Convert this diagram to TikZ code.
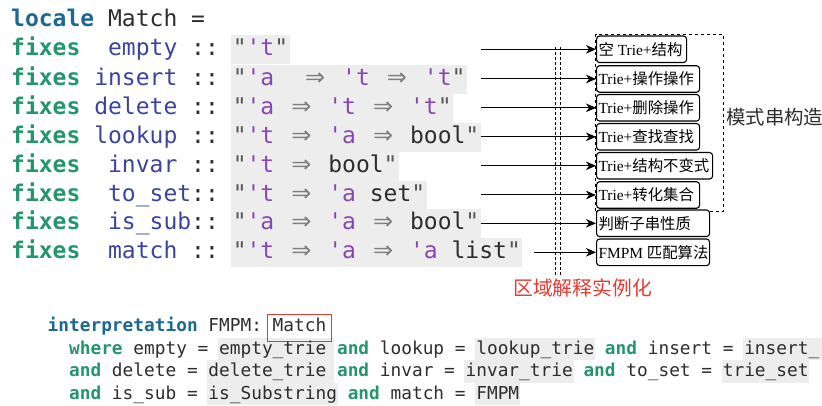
\documentclass[tikz,border=0pt]{standalone}
\usepackage{fontspec}
\setmainfont{Liberation Serif}
\newfontfamily\codefont{DejaVu Sans Mono}
\newfontfamily\arrfont{DejaVu Sans}
\newfontfamily\cjk{Noto Sans CJK SC}
\usetikzlibrary{arrows.meta}

\definecolor{kwblue}{RGB}{28,104,145}
\definecolor{kwgreen}{RGB}{36,150,108}
\definecolor{fname}{RGB}{58,68,160}
\definecolor{tvar}{RGB}{138,70,178}
\definecolor{ink}{RGB}{45,45,45}
\definecolor{qgrey}{RGB}{85,85,85}
\definecolor{arrgrey}{RGB}{125,125,125}
\definecolor{codebg}{RGB}{237,237,237}
\definecolor{hlred}{RGB}{228,58,48}

% one character cell of the locale listing
\newlength\codecw \setlength\codecw{13.85pt}
\newcommand\sk{\hspace*{\codecw}}
\newcommand\qt{{\color{qgrey}"}}
\newcommand\tv[1]{{\color{tvar}'#1}}
\newcommand\imp{\makebox[1.9\codecw]{\color{arrgrey}\arrfont\fontsize{24}{24}\selectfont ⇒}}
\newcommand\kwg[1]{{\bfseries\color{kwgreen}#1}}
\newcommand\kwb[1]{{\bfseries\color{kwblue}#1}}
\newcommand\fn[1]{{\color{fname}#1}}
% cell pitch of the interpretation block: 0.602em at 17.8pt
\newcommand\bcw{10.716}
% grey highlight behind a run of cells in the interpretation block
\newcommand\bgcell[3]{\fill[codebg] ({47.5+#2*\bcw-1},{#1-16.15}) rectangle ({47.5+#3*\bcw+1},{#1+6.35});}
% box label, left aligned in a box of fixed width
\newcommand\lbl[2]{\makebox[#1][l]{#2}}

\begin{document}
\begin{tikzpicture}[x=1pt,y=-1pt,
  code/.style={font=\codefont\fontsize{23}{29}\selectfont, text=ink, inner sep=0, anchor=base west},
  str/.style={code, fill=codebg, inner xsep=1.5pt, inner ysep=0, text height=20.5pt, text depth=8.5pt},
  bcode/.style={font=\codefont\fontsize{17.8}{22}\selectfont, text=ink, inner sep=0, anchor=base west},
  rbox/.style={draw=black, line width=1.1pt, rounded corners=3pt, fill=white, anchor=west,
    inner xsep=2pt, inner ysep=0, minimum height=26.5pt,
    font=\fontsize{15.4}{18}\selectfont, text=black},
  link/.style={line width=1pt, -{Stealth[length=10pt,width=8.5pt,inset=3pt]}},
  vdash/.style={line width=1pt, dash pattern=on 3pt off 2pt},
]
\useasboundingbox (0,0) rectangle (822,406);

% ---- locale declaration ----
\node[code] (l0) at (11,26.6) {\kwb{locale}\sk Match\sk=};
\node[code] (p1) at (11,55.6)  {\kwg{fixes}\sk\sk\fn{empty}\sk::};
\node[code] (p2) at (11,85.3)  {\kwg{fixes}\sk\fn{insert}\sk::};
\node[code] (p3) at (11,114.1) {\kwg{fixes}\sk\fn{delete}\sk::};
\node[code] (p4) at (11,143.1) {\kwg{fixes}\sk\fn{lookup}\sk::};
\node[code] (p5) at (11,172.1) {\kwg{fixes}\sk\sk\fn{invar}\sk::};
\node[code] (p6) at (11,201.3) {\kwg{fixes}\sk\sk\fn{to\_set}::};
\node[code] (p7) at (11,229.6) {\kwg{fixes}\sk\sk\fn{is\_sub}::};
\node[code] (p8) at (11,258.6) {\kwg{fixes}\sk\sk\fn{match}\sk::};

\node[str] (s1) at (231.1,55.6)  {\qt\tv{t}\qt};
\node[str] (s2) at (231.1,85.3)  {\qt\tv{a}\sk\sk\imp\sk\tv{t}\sk\imp\sk\tv{t}\qt};
\node[str] (s3) at (231.1,114.1) {\qt\tv{a}\sk\imp\sk\tv{t}\sk\imp\sk\tv{t}\qt};
\node[str] (s4) at (231.1,143.1) {\qt\tv{t}\sk\imp\sk\tv{a}\sk\imp\sk bool\qt};
\node[str] (s5) at (231.1,172.1) {\qt\tv{t}\sk\imp\sk bool\qt};
\node[str] (s6) at (231.1,201.3) {\qt\tv{t}\sk\imp\sk\tv{a}\sk set\qt};
\node[str] (s7) at (231.1,229.6) {\qt\tv{a}\sk\imp\sk\tv{a}\sk\imp\sk bool\qt};
\node[str] (s8) at (231.1,258.6) {\qt\tv{t}\sk\imp\sk\tv{a}\sk\imp\sk\tv{a}\sk list\qt};

% ---- grouping frame and target boxes ----
\node[draw=black, line width=1.1pt, dash pattern=on 3.5pt off 2.5pt, inner sep=0,
  minimum width=128pt, minimum height=176.7pt, anchor=north west] (grp) at (595,34) {};

\node[rbox] (r1) at (596,49.3)  {\lbl{86pt}{{\cjk 空} Trie+{\cjk 结构}}};
\node[rbox] (r2) at (596,79)    {\lbl{99pt}{Trie+{\cjk 操作操作}}};
\node[rbox] (r3) at (596,107.8) {\lbl{99pt}{Trie+{\cjk 删除操作}}};
\node[rbox] (r4) at (596,136.8) {\lbl{99pt}{Trie+{\cjk 查找查找}}};
\node[rbox] (r5) at (596,165.8) {\lbl{112pt}{Trie+{\cjk 结构不变式}}};
\node[rbox] (r6) at (596,195)   {\lbl{99pt}{Trie+{\cjk 转化集合}}};
\node[rbox] (r7) at (596,223.3) {\lbl{109pt}{{\cjk 判断子串性质}}};
\node[rbox] (r8) at (596,252.3) {\lbl{109pt}{FMPM {\cjk 匹配算法}}};

\node[anchor=west, inner sep=0, text=ink, font=\fontsize{19.4}{22}\selectfont] (grplbl) at (726,116.7) {\cjk 模式串构造};

% ---- connectors ----
\coordinate (a1) at (481,49.3);
\coordinate (a2) at (481,79);
\coordinate (a3) at (481,107.8);
\coordinate (a4) at (481,136.8);
\coordinate (a5) at (481,165.8);
\coordinate (a6) at (481,195);
\coordinate (a7) at (481,223.3);
\coordinate (a8) at (534,252.3);
\foreach \i in {1,...,8} { \draw[link] (a\i) -- (r\i.west); }

% ---- instantiation boundary ----
\coordinate (v1t) at (555,47);  \coordinate (v1b) at (555,275);
\coordinate (v2t) at (560.5,47);  \coordinate (v2b) at (560.5,275);
\draw[vdash] (v1t) -- (v1b);
\draw[vdash] (v2t) -- (v2b);
\node[text=hlred, inner sep=0, font=\fontsize{19.8}{22}\selectfont] (inst) at (582.5,288.3) {\cjk 区域解释实例化};

% ---- interpretation block ----
\bgcell{354}{16}{26.6}
\bgcell{354}{40}{51}
\bgcell{354}{65}{72.2}
\bgcell{376.5}{15}{26.6}
\bgcell{376.5}{39}{49}
\bgcell{376.5}{63}{71}
\bgcell{399}{15}{27}
\bgcell{399}{40}{44}

\node[bcode] (b0) at (47.5,331.5) {\kwb{interpretation} FMPM:};
\node[bcode, inner xsep=5pt, inner ysep=0, text height=16.5pt, text depth=10.2pt]
  (bm) at ({47.5+21*\bcw-5},331.5) {Match};
\draw[hlred, line width=1pt] (bm.south west) rectangle (bm.north east);
\node[bcode] (b1) at ({47.5+2*\bcw},354) {\kwg{where} empty = empty\_trie \kwg{and} lookup = lookup\_trie \kwg{and} insert = insert\_};
\node[bcode] (b2) at ({47.5+2*\bcw},376.5) {\kwg{and} delete = delete\_trie \kwg{and} invar = invar\_trie \kwg{and} to\_set = trie\_set};
\node[bcode] (b3) at ({47.5+2*\bcw},399) {\kwg{and} is\_sub = is\_Substring \kwg{and} match = FMPM};
\end{tikzpicture}
\end{document}
